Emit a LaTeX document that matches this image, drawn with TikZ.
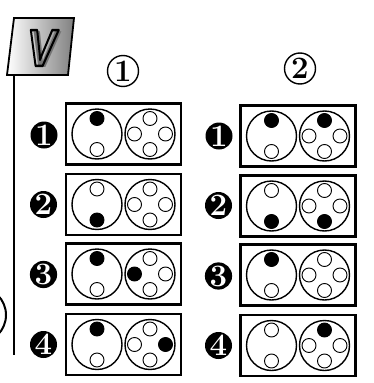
\documentclass[tikz,border=0pt]{standalone}
\usepackage{graphicx}
\usepackage{fontspec}
\newfontfamily\vfont{Liberation Sans}
\tikzset{
  frame/.style={draw, line width=2.2pt, minimum width=115pt, minimum height=61pt, inner sep=0},
  big/.style={circle, draw, line width=1.4pt, minimum size=50pt, inner sep=0},
  hole/.style={circle, draw, line width=0.9pt, minimum size=14pt, inner sep=0, fill=white},
  on/.style={hole, fill=black},
  badge/.style={circle, fill=black, text=white, minimum size=27pt, inner sep=0, font=\fontsize{24}{24}\selectfont\bfseries},
  head/.style={circle, draw, line width=1.4pt, minimum size=31pt, inner sep=0, font=\fontsize{24}{24}\selectfont\bfseries},
  vglyph/.style={inner sep=0, xscale=0.82, font=\vfont\bfseries\itshape\fontsize{52}{52}\selectfont}
}
\newcommand\bdg[1]{\scalebox{1.3}{#1}}
\newcommand\hdg[1]{\scalebox{1.3}{#1}}
% #1 name, #2 x, #3 y, #4 left top, #5 left bottom, #6 right top, #7 right left, #8 right right, #9 right bottom
\newcommand\cellpair[9]{%
  \node[frame] (#1) at (#2,#3) {};
  \node[big] (#1L) at ([xshift=-26.5pt]#1.center) {};
  \node[big] (#1R) at ([xshift=26.5pt]#1.center) {};
  \node[#4] (#1Lt) at ([yshift=15.5pt]#1L.center) {};
  \node[#5] (#1Lb) at ([yshift=-15.5pt]#1L.center) {};
  \node[#6] (#1Rt) at ([yshift=15.5pt]#1R.center) {};
  \node[#7] (#1Rl) at ([xshift=-15.5pt]#1R.center) {};
  \node[#8] (#1Rr) at ([xshift=15.5pt]#1R.center) {};
  \node[#9] (#1Rb) at ([yshift=-15.5pt]#1R.center) {};
}
\begin{document}
\begin{tikzpicture}[x=1pt,y=-1pt]
\useasboundingbox (0,0) rectangle (374,383);
\fill[white] (0,0) rectangle (374,383);

% V title box
\shade[left color=white, middle color=white!85!black, right color=black!50, draw=black, line width=1.8pt]
  (14,18) -- (74,18) -- (68,75) -- (7,75) -- cycle;
\node[vglyph, text=black!55] (vshadow) at (44.5,50) {V};
\node[vglyph, text=black] (vtxt) at (41.5,48)
  {\special{pdf:literal direct 1 Tr 2.4 w 1 j}V\special{pdf:literal direct 0 Tr}};

% vertical rule
\coordinate (ltop) at (14,75);
\coordinate (lbot) at (14,355);
\draw[line width=2.6pt] (ltop) -- (lbot);

% partial circle at left edge
\node[circle, draw, line width=2pt, minimum size=56pt, inner sep=0] (partial) at (-22,315) {};

% column headers
\node[head] (h1) at (123,71) {\hdg{1}};
\node[head] (h2) at (300,68.5) {\hdg{2}};

% left column
\cellpair{a1}{123.5}{134}{on}{hole}{hole}{hole}{hole}{hole}
\cellpair{a2}{123.5}{204.5}{hole}{on}{hole}{hole}{hole}{hole}
\cellpair{a3}{123.5}{274}{on}{hole}{hole}{on}{hole}{hole}
\cellpair{a4}{123.5}{344.5}{on}{hole}{hole}{hole}{on}{hole}

% right column
\cellpair{b1}{298}{136}{on}{hole}{on}{hole}{hole}{hole}
\cellpair{b2}{298}{206}{hole}{on}{hole}{hole}{hole}{on}
\cellpair{b3}{298}{275}{on}{hole}{hole}{hole}{hole}{hole}
\cellpair{b4}{298}{345.5}{hole}{hole}{on}{hole}{hole}{hole}

% row badges
\node[badge] (na1) at (44,135) {\bdg{1}};
\node[badge] (na2) at (43.5,204.5) {\bdg{2}};
\node[badge] (na3) at (43.5,274.5) {\bdg{3}};
\node[badge] (na4) at (43.5,344.5) {\bdg{4}};
\node[badge] (nb1) at (219,136) {\bdg{1}};
\node[badge] (nb2) at (218.5,205.5) {\bdg{2}};
\node[badge] (nb3) at (218.5,276) {\bdg{3}};
\node[badge] (nb4) at (218.5,345.5) {\bdg{4}};
\end{tikzpicture}
\end{document}
